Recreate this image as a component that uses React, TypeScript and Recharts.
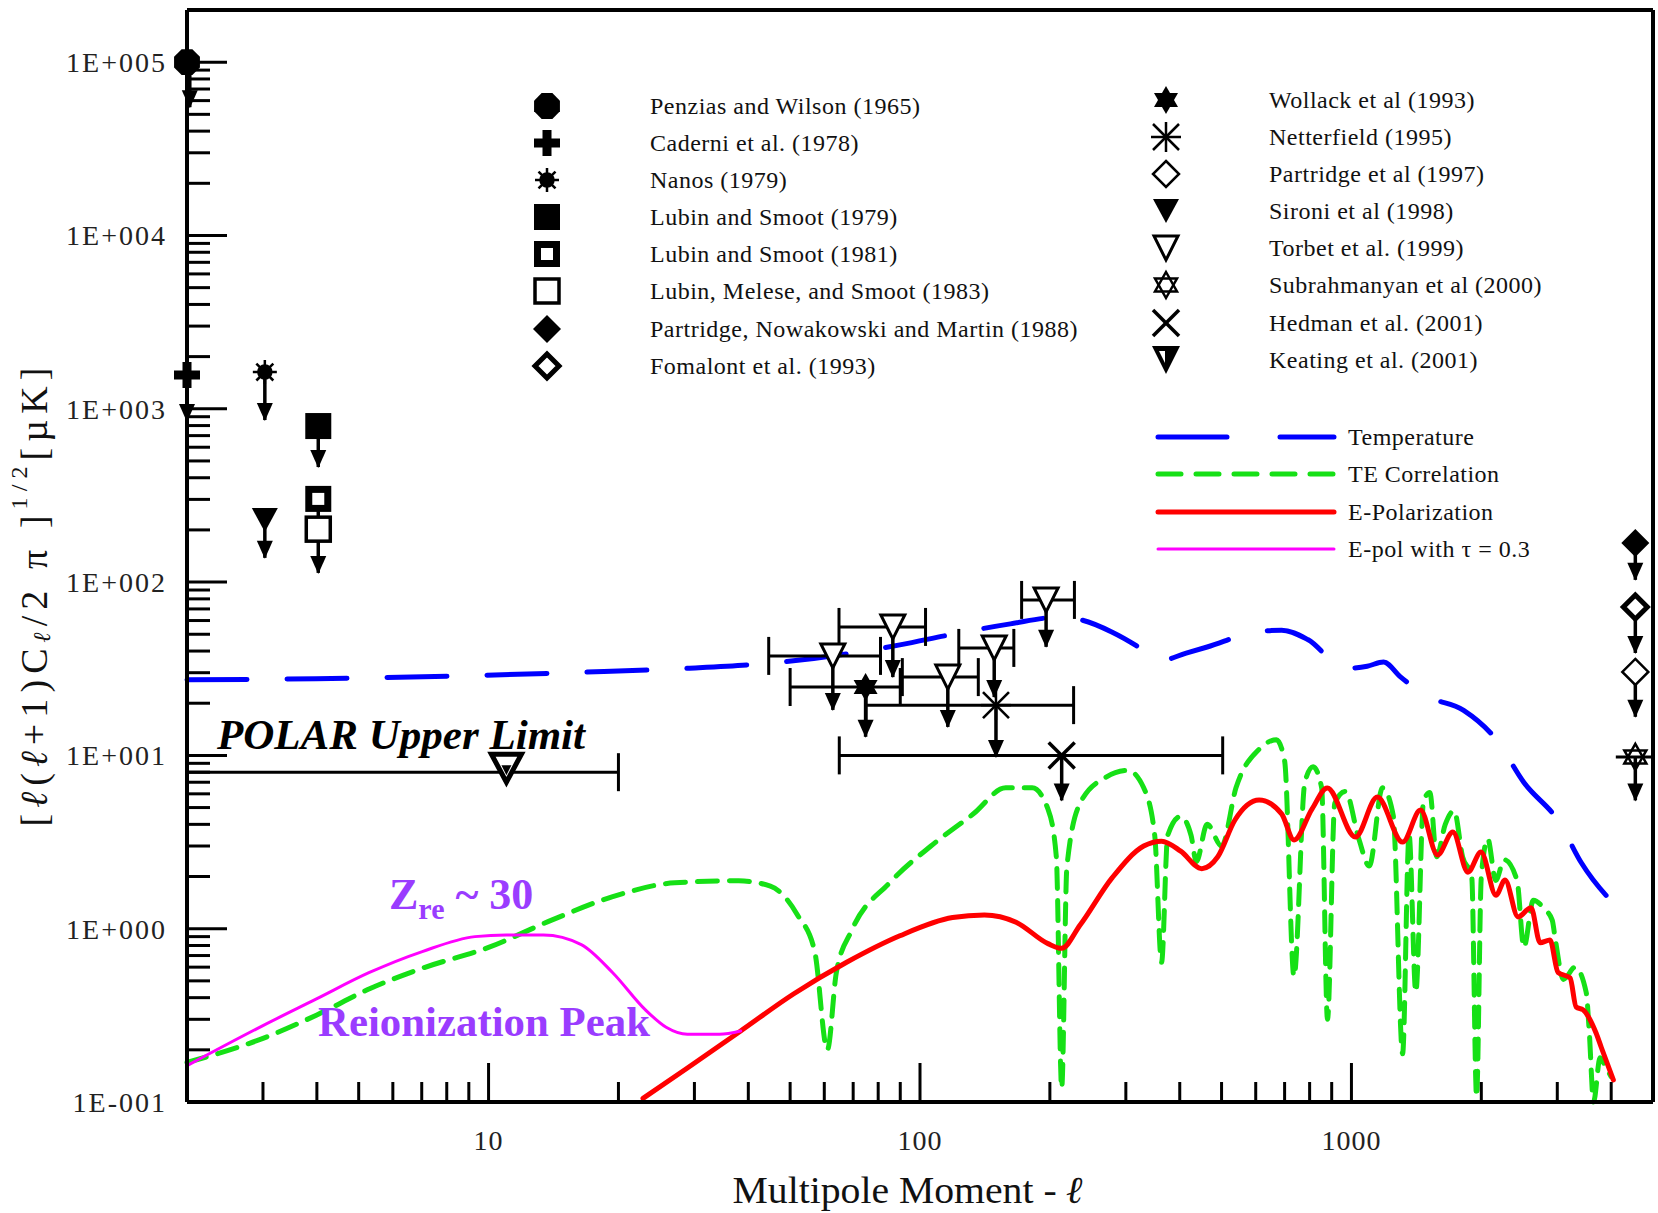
import React from 'react'
import { ComposedChart, Line, Scatter, XAxis, YAxis, ErrorBar, ReferenceLine } from 'recharts'

const SERIF = '"Liberation Serif", "Times New Roman", Times, serif'
const INK = '#000'
const PURPLE = '#9a3cff'

// theory curves: [multipole l, sqrt(l(l+1)Cl/2pi) in uK]
const temperature: [number, number][] = [
  [2, 27.3], [3.98, 27.7], [8.8, 28.8], [15.9, 30.1], [28.9, 31.8], [48, 34.6], [89.8, 43.4],
  [119, 50], [162, 57.4], [209, 62.6], [235, 60.7], [279, 51.4], [321, 42.2], [358, 35.1],
  [414, 38.9], [463, 42.2], [597, 51.4], [689, 52.8], [792, 46.6], [968, 31.8], [1088, 32.7],
  [1187, 34.6], [1297, 28.5], [1494, 22.0], [1820, 18.2], [2168, 12.3], [2508, 7.0],
  [3034, 4.1], [3411, 2.4], [4154, 1.31],
]

const teCorrelation: [number, number][] = [
  [2, 0.169], [3, 0.233], [4, 0.318], [5.3, 0.45], [7, 0.59], [10, 0.78], [14, 1.12], [19.4, 1.53],
  [27, 1.84], [38, 1.89], [45, 1.76], [52, 1.2], [57, 0.74], [61, 0.2], [64, 0.56], [69.5, 0.98],
  [85, 1.84], [106, 3.0], [133, 4.6], [158, 6.5], [182, 6.5], [198, 4.9], [207, 2.6], [213, 0.12],
  [219, 2.27], [235, 5.3], [270, 7.5], [303, 8.2], [330, 6.5], [350, 3.45], [363, 0.64], [375, 3.45],
  [402, 4.45], [425, 3.45], [437, 2.44], [463, 4.0], [500, 3.0], [540, 6.5], [612, 10.9], [670, 12.3],
  [700, 9.3], [736, 0.53], [780, 7], [815, 8.6], [853, 6.5], [880, 0.3], [915, 5.3], [968, 6.2],
  [1040, 3.3], [1100, 2.3], [1180, 6.5], [1250, 4.5], [1314, 0.19], [1360, 3.5], [1410, 0.43],
  [1470, 5.5], [1520, 6.1], [1575, 2.6], [1650, 4.0], [1730, 4.8], [1810, 2.6], [1900, 2.0],
  [1950, 0.107], [2000, 2.0], [2070, 3.3], [2160, 1.9], [2260, 2.5], [2420, 1.9], [2510, 0.78],
  [2640, 1.46], [2800, 1.3], [2920, 1.12], [2970, 0.86], [3100, 0.51], [3300, 0.6], [3500, 0.43],
  [3560, 0.25], [3640, 0.1], [3770, 0.18], [3880, 0.16], [4000, 0.14],
]

const ePolarization: [number, number][] = [
  [22.8, 0.105], [28.9, 0.157], [38.4, 0.257], [50.9, 0.42], [67.6, 0.64], [89.8, 0.91], [119, 1.16],
  [141, 1.2], [167, 1.09], [198, 0.82], [213, 0.77], [235, 1.05], [279, 1.97], [330, 3.0], [363, 3.2],
  [402, 2.8], [450, 2.22], [490, 2.6], [537, 4.24], [611, 5.53], [689, 4.6], [736, 3.25], [810, 4.9],
  [879, 6.49], [1021, 3.38], [1148, 5.75], [1314, 3.16], [1446, 4.84], [1583, 2.66], [1718, 3.61],
  [1862, 2.12], [1997, 2.77], [2163, 1.56], [2270, 1.91], [2433, 1.17], [2608, 1.32], [2737, 0.83],
  [2886, 0.86], [3011, 0.56], [3212, 0.52], [3317, 0.353], [3444, 0.34], [3690, 0.25],
  [3793, 0.207], [4046, 0.134],
]

const ePolTau: [number, number][] = [
  [2, 0.162], [3, 0.276], [3.98, 0.392], [5.28, 0.557], [7.02, 0.738], [9.3, 0.9], [11, 0.92],
  [13.4, 0.92], [16.4, 0.81], [19.4, 0.557], [23.1, 0.34], [25.8, 0.27], [28.9, 0.246],
  [34.3, 0.246], [38.4, 0.257],
]

// measurements: marker (l, v), optional l range, optional upper-limit arrow tip
type Limit = { l: number; v: number; lo?: number; hi?: number; tip?: number; tipL?: number }

const penzias65: Limit[] = [{ l: 2, v: 100000, tip: 55000, tipL: 2.03 }]
const caderni78: Limit[] = [{ l: 2, v: 1566, tip: 850 }]
const nanos79: Limit[] = [{ l: 3.03, v: 1630, tip: 861 }]
const lubinSmoot79: Limit[] = [{ l: 4.03, v: 795, tip: 461 }]
const lubinSmoot81: Limit[] = [{ l: 4.03, v: 302, tip: 113 }]
const lubinMeleseSmoot83: Limit[] = [{ l: 4.03, v: 202 }]
const partridgeNM88: Limit[] = [{ l: 4550, v: 168, tip: 103 }]
const fomalont93: Limit[] = [{ l: 4550, v: 71.8, tip: 39 }]
const wollack93: Limit[] = [{ l: 74.8, v: 24.8, lo: 50, hi: 90, tip: 12.8 }]
const netterfield95: Limit[] = [{ l: 150, v: 19.5, lo: 75, hi: 227, tip: 9.8 }]
const partridge97: Limit[] = [{ l: 4550, v: 30.3, tip: 16.7 }]
const sironi98: Limit[] = [{ l: 3.03, v: 228, tip: 138 }]
const torbet99: Limit[] = [
  { l: 62.8, v: 37.5, lo: 44.6, hi: 81, tip: 18.3 },
  { l: 86.5, v: 55.1, lo: 64.9, hi: 103, tip: 28.3 },
  { l: 116, v: 28.3, lo: 91, hi: 136.5, tip: 14.6 },
  { l: 148.6, v: 41.7, lo: 123, hi: 165, tip: 21.7 },
  { l: 196, v: 78.9, lo: 172, hi: 228, tip: 42.3 },
]
const subrahmanyan00: Limit[] = [{ l: 4550, v: 9.8, lo: 4100, hi: 5000, tip: 5.5 }]
const hedman01: Limit[] = [{ l: 213, v: 10, lo: 65, hi: 503, tip: 5.5 }]
const keating01: Limit[] = [{ l: 11, v: 8.0, lo: 2, hi: 20 }]

// axis ticks
const xTicks = [3, 4, 5, 6, 7, 8, 9, 10, 20, 30, 40, 50, 60, 70, 80, 90, 100, 200, 300, 400, 500, 600, 700, 800, 900, 1000, 2000, 3000, 4000]
const xTopTicks = [2, 3, 4, 5, 6, 7, 8, 9, 10, 20, 30, 40, 50, 60, 70, 80, 90, 100, 200, 300, 400, 500, 600, 700, 800, 900, 1000, 2000, 3000, 4000]
const xLabels = [10, 100, 1000]
const yDecades = [0.1, 1, 10, 100, 1000, 10000]
const mantissas = [1, 2, 3, 4, 5, 6, 7, 8, 9]
const yTicks = [...yDecades.flatMap(d => mantissas.map(m => m * d)), 100000]

const toPts = (a: [number, number][]) => a.map(([l, v]) => ({ l, v }))
const pts = (a: number[][]) => a.map(p => p.join(',')).join(' ')
const downTri = (cx: number, cy: number, w: number, h: number) =>
  pts([[cx - w / 2, cy - h / 2], [cx + w / 2, cy - h / 2], [cx, cy + h / 2]])

const SYMBOLS: Record<string, (cx: number, cy: number) => React.ReactElement> = {
  octagon: (cx, cy) => (
    <polygon
      points={pts([0, 1, 2, 3, 4, 5, 6, 7].map(k => [cx + 14 * Math.cos(Math.PI / 8 + k * Math.PI / 4), cy + 14 * Math.sin(Math.PI / 8 + k * Math.PI / 4)]))}
      fill={INK}
    />
  ),
  plus: (cx, cy) => (
    <path d={`M${cx - 4.5},${cy - 13}h9v8.5h8.5v9h-8.5v8.5h-9v-8.5h-8.5v-9h8.5z`} fill={INK} />
  ),
  burst: (cx, cy) => (
    <g stroke={INK} strokeWidth={2.5}>
      <circle cx={cx} cy={cy} r={6.5} fill={INK} />
      {[0, 45, 90, 135].map(a => {
        const r = (a * Math.PI) / 180
        return <line key={a} x1={cx - 12 * Math.cos(r)} y1={cy - 12 * Math.sin(r)} x2={cx + 12 * Math.cos(r)} y2={cy + 12 * Math.sin(r)} />
      })}
    </g>
  ),
  square: (cx, cy) => <rect x={cx - 13} y={cy - 13} width={26} height={26} fill={INK} />,
  holeSquare: (cx, cy) => (
    <g>
      <rect x={cx - 13} y={cy - 13} width={26} height={26} fill={INK} />
      <rect x={cx - 6} y={cy - 6} width={12} height={12} fill="#fff" />
    </g>
  ),
  openSquare: (cx, cy) => <rect x={cx - 12} y={cy - 12} width={24} height={24} fill="#fff" stroke={INK} strokeWidth={3.5} />,
  diamond: (cx, cy) => <polygon points={pts([[cx, cy - 14], [cx + 14, cy], [cx, cy + 14], [cx - 14, cy]])} fill={INK} />,
  thickDiamond: (cx, cy) => <polygon points={pts([[cx, cy - 12], [cx + 12, cy], [cx, cy + 12], [cx - 12, cy]])} fill="#fff" stroke={INK} strokeWidth={5} />,
  star6: (cx, cy) => (
    <g fill={INK}>
      <polygon points={pts([[cx, cy - 14], [cx + 12, cy + 7], [cx - 12, cy + 7]])} />
      <polygon points={pts([[cx, cy + 14], [cx + 12, cy - 7], [cx - 12, cy - 7]])} />
    </g>
  ),
  asterisk: (cx, cy) => (
    <g stroke={INK} strokeWidth={2.5}>
      <line x1={cx - 15} y1={cy} x2={cx + 15} y2={cy} />
      <line x1={cx} y1={cy - 15} x2={cx} y2={cy + 15} />
      <line x1={cx - 13} y1={cy - 13} x2={cx + 13} y2={cy + 13} />
      <line x1={cx - 13} y1={cy + 13} x2={cx + 13} y2={cy - 13} />
    </g>
  ),
  thinDiamond: (cx, cy) => <polygon points={pts([[cx, cy - 13], [cx + 13, cy], [cx, cy + 13], [cx - 13, cy]])} fill="#fff" stroke={INK} strokeWidth={2.5} />,
  solidTri: (cx, cy) => <polygon points={downTri(cx, cy, 26, 24)} fill={INK} />,
  openTri: (cx, cy) => <polygon points={downTri(cx, cy, 24, 24)} fill="#fff" stroke={INK} strokeWidth={3} />,
  david: (cx, cy) => (
    <g fill="none" stroke={INK} strokeWidth={2.5}>
      <polygon points={pts([[cx, cy - 13], [cx + 11, cy + 6.5], [cx - 11, cy + 6.5]])} />
      <polygon points={pts([[cx, cy + 13], [cx + 11, cy - 6.5], [cx - 11, cy - 6.5]])} />
    </g>
  ),
  cross: (cx, cy) => (
    <g stroke={INK} strokeWidth={3.5}>
      <line x1={cx - 13} y1={cy - 13} x2={cx + 13} y2={cy + 13} />
      <line x1={cx - 13} y1={cy + 13} x2={cx + 13} y2={cy - 13} />
    </g>
  ),
  keating: (cx, cy) => (
    <g>
      <polygon points={downTri(cx, cy, 28, 28)} fill={INK} />
      <polygon points={pts([[cx - 7, cy - 9], [cx - 1, cy - 9], [cx - 1, cy + 3]])} fill="#fff" />
    </g>
  ),
  polar: (cx, cy) => (
    <g>
      <polygon points={downTri(cx, cy - 4, 30, 28)} fill="#fff" stroke={INK} strokeWidth={5} strokeLinejoin="miter" />
      <polygon points={downTri(cx, cy - 2, 10, 10)} fill={INK} />
    </g>
  ),
  arrow: (cx, cy) => <polygon points={pts([[cx - 8, cy - 17], [cx + 8, cy - 17], [cx, cy + 1]])} fill={INK} />,
}

const experiments = [
  { name: 'Penzias and Wilson (1965)', data: penzias65, sym: 'octagon', plotSym: 'octagon' },
  { name: 'Caderni et al. (1978)', data: caderni78, sym: 'plus', plotSym: 'plus' },
  { name: 'Nanos (1979)', data: nanos79, sym: 'burst', plotSym: 'burst' },
  { name: 'Lubin and Smoot (1979)', data: lubinSmoot79, sym: 'square', plotSym: 'square' },
  { name: 'Lubin and Smoot (1981)', data: lubinSmoot81, sym: 'holeSquare', plotSym: 'holeSquare' },
  { name: 'Lubin, Melese, and Smoot (1983)', data: lubinMeleseSmoot83, sym: 'openSquare', plotSym: 'openSquare' },
  { name: 'Partridge, Nowakowski and Martin (1988)', data: partridgeNM88, sym: 'diamond', plotSym: 'diamond' },
  { name: 'Fomalont et al. (1993)', data: fomalont93, sym: 'thickDiamond', plotSym: 'thickDiamond' },
  { name: 'Wollack et al (1993)', data: wollack93, sym: 'star6', plotSym: 'star6' },
  { name: 'Netterfield (1995)', data: netterfield95, sym: 'asterisk', plotSym: 'asterisk' },
  { name: 'Partridge et al (1997)', data: partridge97, sym: 'thinDiamond', plotSym: 'thinDiamond' },
  { name: 'Sironi et al (1998)', data: sironi98, sym: 'solidTri', plotSym: 'solidTri' },
  { name: 'Torbet et al. (1999)', data: torbet99, sym: 'openTri', plotSym: 'openTri' },
  { name: 'Subrahmanyan et al (2000)', data: subrahmanyan00, sym: 'david', plotSym: 'david' },
  { name: 'Hedman et al. (2001)', data: hedman01, sym: 'cross', plotSym: 'cross' },
  { name: 'Keating et al. (2001)', data: keating01, sym: 'keating', plotSym: 'polar' },
]

const curves = [
  { name: 'Temperature', data: temperature, color: '#0000ff', width: 5, dash: '60 40', legendDash: '69 53' },
  { name: 'TE Correlation', data: teCorrelation, color: '#16e016', width: 5, dash: '20 12', legendDash: '23 15' },
  { name: 'E-Polarization', data: ePolarization, color: '#ff0000', width: 5, dash: undefined, legendDash: undefined },
  { name: 'E-pol with \u03c4 = 0.3', data: ePolTau, color: '#ff00ff', width: 3, dash: undefined, legendDash: undefined },
]

const isMajor = (v: number) => Math.abs(Math.log10(v) - Math.round(Math.log10(v))) < 1e-9
const expLabel = (v: number) => {
  const e = Math.round(Math.log10(v))
  return `1E${e < 0 ? '-' : '+'}${String(Math.abs(e)).padStart(3, '0')}`
}

const renderBottomTick = (p: any) => {
  const { x, y, payload } = p
  const major = xLabels.includes(payload.value)
  return (
    <g>
      <line x1={x} x2={x} y1={y} y2={y - (major ? 39 : 20)} stroke={INK} strokeWidth={3} />
      {major && (
        <text x={x} y={y + 48} textAnchor="middle" fontFamily={SERIF} fontSize={28} fill="#222" letterSpacing={1}>
          {payload.value}
        </text>
      )}
    </g>
  )
}

const renderTopTick = (p: any) => {
  const { x, y, payload } = p
  const major = xLabels.includes(payload.value)
  return <line x1={x} x2={x} y1={y} y2={y + (major ? 38 : 22)} stroke={INK} strokeWidth={3} />
}

const renderLeftTick = (p: any) => {
  const { x, y, payload } = p
  const major = isMajor(payload.value)
  return (
    <g>
      <line x1={x} x2={x + (major ? 40 : 23)} y1={y} y2={y} stroke={INK} strokeWidth={3} />
      {major && (
        <text x={x - 20} y={y + 10} textAnchor="end" fontFamily={SERIF} fontSize={28} fill="#222" letterSpacing={2}>
          {expLabel(payload.value)}
        </text>
      )}
    </g>
  )
}

const renderRightTick = (p: any) => {
  const { x, y, payload } = p
  const major = isMajor(payload.value)
  return <line x1={x} x2={x - (major ? 40 : 23)} y1={y} y2={y} stroke={INK} strokeWidth={3} />
}

const legendLeft = { symX: 547, textX: 650, rows: [106, 143, 180, 217, 254, 291, 329, 366] }
const legendRight = { symX: 1166, textX: 1269, rows: [100, 137, 174, 211, 248, 285, 323, 360] }
const legendLines = { x1: 1158, x2: 1334, textX: 1348, rows: [437, 474, 512, 549] }

export default function App() {
  const arrowTips = experiments.flatMap(e =>
    e.data.filter(d => d.tip !== undefined).map(d => ({ l: d.tipL ?? d.l, v: d.tip as number, from: d.v }))
  )

  return (
    <div style={{ position: 'absolute', left: 0, top: 0, width: 1658, height: 1213, background: '#fff', fontFamily: SERIF }}>
      <ComposedChart width={1658} height={1213} margin={{ top: 5, right: 0, bottom: 51, left: 87 }}>
        <XAxis
          dataKey="l"
          type="number"
          scale="log"
          domain={[2, 5000]}
          ticks={xTicks}
          interval={0}
          tick={renderBottomTick}
          tickLine={false}
          tickSize={0}
          tickMargin={0}
          height={60}
          axisLine={{ stroke: INK, strokeWidth: 4 }}
        />
        <XAxis
          xAxisId="top"
          orientation="top"
          dataKey="l"
          type="number"
          scale="log"
          domain={[1, 5000]}
          ticks={xTopTicks}
          interval={0}
          tick={renderTopTick}
          tickLine={false}
          tickSize={0}
          tickMargin={0}
          height={5}
          axisLine={{ stroke: INK, strokeWidth: 4 }}
        />
        <YAxis
          dataKey="v"
          type="number"
          scale="log"
          domain={[0.1, 200000]}
          ticks={yTicks}
          interval={0}
          tick={renderLeftTick}
          tickLine={false}
          tickSize={0}
          tickMargin={0}
          width={100}
          axisLine={{ stroke: INK, strokeWidth: 4 }}
        />
        <YAxis
          yAxisId="right"
          orientation="right"
          dataKey="v"
          type="number"
          scale="log"
          domain={[0.1, 200000]}
          ticks={yTicks}
          interval={0}
          tick={renderRightTick}
          tickLine={false}
          tickSize={0}
          tickMargin={0}
          width={5}
          axisLine={{ stroke: INK, strokeWidth: 4 }}
        />

        {curves.map(c => (
          <Line
            key={c.name}
            name={c.name}
            data={toPts(c.data)}
            dataKey="v"
            type="monotone"
            stroke={c.color}
            strokeWidth={c.width}
            strokeDasharray={c.dash}
            strokeLinecap="round"
            strokeLinejoin="round"
            dot={false}
            activeDot={false}
            isAnimationActive={false}
          />
        ))}

        {arrowTips.map((a, i) => (
          <ReferenceLine
            key={`shaft-${i}`}
            segment={[{ x: a.l, y: a.from }, { x: a.l, y: a.v }]}
            stroke={INK}
            strokeWidth={3.5}
            ifOverflow="visible"
          />
        ))}

        <Scatter
          name="arrows"
          data={arrowTips}
          shape={(p: any) => SYMBOLS.arrow(p.cx, p.cy)}
          isAnimationActive={false}
        />

        {experiments.map(e => {
          const ranged = e.data.some(d => d.lo !== undefined)
          const data = e.data.map(d => ({
            l: d.l,
            v: d.v,
            ex: d.lo !== undefined && d.hi !== undefined ? [d.l - d.lo, d.hi - d.l] : [0, 0],
          }))
          return (
            <Scatter
              key={e.name}
              name={e.name}
              data={data}
              shape={(p: any) => SYMBOLS[e.plotSym](p.cx, p.cy)}
              isAnimationActive={false}
            >
              {ranged && (
                <ErrorBar
                  dataKey="ex"
                  direction="x"
                  width={e.sym === 'david' ? 0 : 19}
                  stroke={INK}
                  strokeWidth={3}
                />
              )}
            </Scatter>
          )
        })}
      </ComposedChart>

      <svg
        width={1658}
        height={1213}
        style={{ position: 'absolute', left: 0, top: 0, pointerEvents: 'none' }}
        fontFamily={SERIF}
      >
        {/* legend: measurements */}
        {experiments.map((e, i) => {
          const col = i < 8 ? legendLeft : legendRight
          const y = col.rows[i % 8]
          return (
            <g key={e.name}>
              {SYMBOLS[e.sym](col.symX, y)}
              <text x={col.textX} y={y} dominantBaseline="central" fontSize={24} letterSpacing={0.5} fill="#111">
                {e.name}
              </text>
            </g>
          )
        })}

        {/* legend: theory curves */}
        {curves.map((c, i) => {
          const y = legendLines.rows[i]
          return (
            <g key={c.name}>
              <line
                x1={legendLines.x1}
                x2={legendLines.x2}
                y1={y}
                y2={y}
                stroke={c.color}
                strokeWidth={c.width}
                strokeDasharray={c.legendDash}
                strokeLinecap="round"
              />
              <text x={legendLines.textX} y={y} dominantBaseline="central" fontSize={24} letterSpacing={0.5} fill="#111">
                {c.name}
              </text>
            </g>
          )
        })}

        {/* annotations */}
        <text x={217} y={749} fontSize={42} fontWeight="bold" fontStyle="italic" fill={INK} textLength={368} lengthAdjust="spacingAndGlyphs">
          POLAR Upper Limit
        </text>
        <text x={389} y={909} fontSize={44} fontWeight="bold" fill={PURPLE}>
          Z<tspan fontSize={30} dy={10}>re</tspan>
          <tspan dy={-10}> ~ 30</tspan>
        </text>
        <text x={318} y={1036} fontSize={42} fontWeight="bold" fill={PURPLE} textLength={332} lengthAdjust="spacingAndGlyphs">
          Reionization Peak
        </text>

        {/* axis titles */}
        <text x={908} y={1203} textAnchor="middle" fontSize={38} fill="#111" textLength={351} lengthAdjust="spacingAndGlyphs">
          Multipole Moment - <tspan fontStyle="italic" fontWeight="bold">ℓ</tspan>
        </text>
        <text
          transform="translate(34,597) rotate(-90)"
          textAnchor="middle"
          dominantBaseline="central"
          fontSize={38}
          fill="#111"
          textLength={459}
          lengthAdjust="spacing"
        >
          [<tspan fontStyle="italic">ℓ</tspan>(<tspan fontStyle="italic">ℓ</tspan>+1)C
          <tspan fontSize={24} dy={8} fontStyle="italic">ℓ</tspan>
          <tspan dy={-8}>/2 π ]</tspan>
          <tspan fontSize={24} dy={-15}>1/2</tspan>
          <tspan dy={15}>[µK]</tspan>
        </text>
      </svg>
    </div>
  )
}
